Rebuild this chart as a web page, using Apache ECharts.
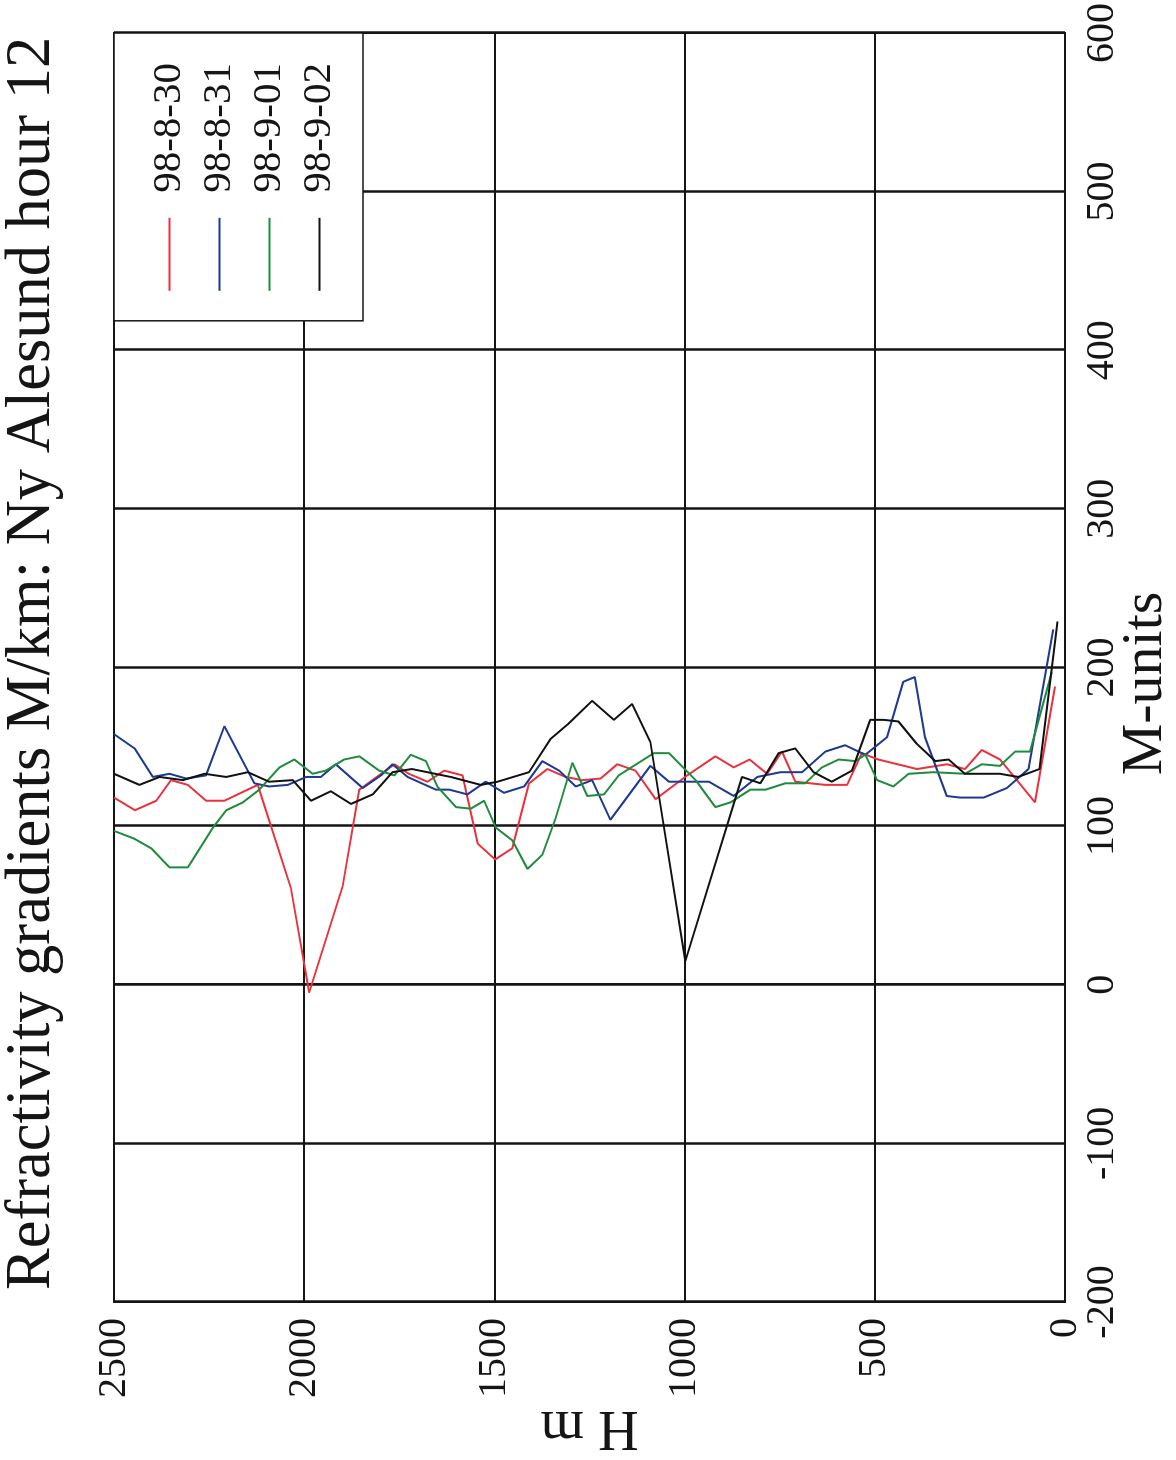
<!DOCTYPE html>
<html>
<head>
<meta charset="utf-8">
<script src="https://cdn.jsdelivr.net/npm/echarts@6/dist/echarts.min.js"></script>
<style>
  html, body { margin: 0; padding: 0; width: 1176px; height: 1460px; overflow: hidden; background: #fff; }
  /* the plot is laid out landscape and turned a quarter turn to stand on the page */
  #chart { position: absolute; left: 0; top: 0; width: 1460px; height: 1176px;
           transform-origin: 0 0; transform: translateY(1460px) rotate(-90deg); }
</style>
</head>
<body>
<div id="chart"></div>
<script>
// Radiosonde refractivity gradient profiles, Ny Alesund, 12 UTC.
// Each entry: [height H in m, gradient in M-units per km]
const seriesNames = ['98-8-30', '98-8-31', '98-9-01', '98-9-02'];
const seriesColors = ['#e8323c', '#1c3a90', '#1f8c3c', '#111111'];

const profile0830 = [
  [2500,118],[2445,110],[2389,116],[2350,129],[2306,126],[2258,116],[2210,116],[2122,126],
  [2035,61],[1987,-5],[1899,62],[1855,123],[1763,139],[1725,133],[1676,128],[1632,135],
  [1584,132],[1544,89],[1498,79],[1453,86],[1409,127],[1361,136],[1313,131],[1269,129],
  [1221,130],[1177,139],[1129,135],[1076,117],[993,132],[919,144],[871,137],[829,142],
  [783,133],[744,147],[709,128],[630,126],[573,126],[534,146],[491,142],[389,136],
  [310,139],[263,136],[219,148],[171,142],[79,115],[26,188]
];
const profile0831 = [
  [2500,158],[2446,149],[2398,131],[2354,133],[2310,130],[2258,132],[2210,163],[2131,127],
  [2092,125],[2043,126],[1995,131],[1956,131],[1917,139],[1846,124],[1798,132],[1768,139],
  [1728,131],[1654,123],[1619,123],[1571,120],[1523,128],[1475,121],[1422,125],[1374,141],
  [1330,135],[1286,125],[1243,129],[1195,104],[1090,138],[1041,128],[936,128],[871,119],
  [809,131],[748,134],[691,134],[630,147],[578,151],[525,145],[468,156],[425,191],
  [395,194],[368,156],[311,119],[276,118],[214,118],[153,124],[96,136],[31,224]
];
const profile0901 = [
  [2500,97],[2446,92],[2402,86],[2354,74],[2306,74],[2240,99],[2205,110],[2161,115],
  [2118,123],[2065,137],[2026,142],[1978,133],[1943,135],[1895,142],[1855,144],[1803,135],
  [1763,132],[1720,145],[1680,141],[1650,125],[1601,112],[1562,111],[1527,116],[1496,99],
  [1453,91],[1413,73],[1374,82],[1339,105],[1295,140],[1256,119],[1212,120],[1173,132],
  [1081,146],[1041,146],[971,129],[919,112],[879,115],[827,123],[787,123],[735,127],
  [683,127],[639,137],[595,142],[551,141],[525,145],[494,129],[451,125],[411,133],
  [346,134],[263,133],[219,139],[171,138],[131,147],[92,147],[35,197]
];
const profile0902 = [
  [2500,133],[2433,126],[2380,131],[2319,129],[2262,133],[2205,131],[2148,134],[2092,128],
  [2030,129],[1982,116],[1930,122],[1877,114],[1820,120],[1768,134],[1717,136],[1615,131],
  [1536,126],[1492,128],[1409,134],[1352,155],[1308,164],[1243,179],[1186,167],[1138,177],
  [1090,153],[998,15],[849,131],[801,127],[753,146],[709,149],[661,134],[613,128],
  [560,135],[512,167],[477,167],[438,166],[390,152],[341,141],[306,142],[263,133],
  [171,133],[123,131],[67,136],[20,229]
];
const profiles = [profile0830, profile0831, profile0901, profile0902];

// axis ranges (tick labels come from these)
const mAxis = { min: -200, max: 600, step: 100 };
const hAxis = { min: 0, max: 2500, step: 500 };

const serif = 'Liberation Serif, Times New Roman, serif';
const ink = '#151515';

const chart = echarts.init(document.getElementById('chart'), null, { renderer: 'canvas' });

chart.setOption({
  animation: false,
  backgroundColor: '#ffffff',
  title: {
    text: 'Refractivity gradients M/km: Ny Alesund hour 12',
    left: 165,
    top: -4,
    textStyle: { fontFamily: serif, fontSize: 62.5, fontWeight: 'normal', color: ink }
  },
  legend: {
    orient: 'vertical',
    right: 33,
    top: 114,
    padding: [35, 30, 23, 30],
    itemGap: 9,
    itemWidth: 73,
    itemHeight: 2,
    icon: 'rect',
    backgroundColor: '#ffffff',
    borderColor: ink,
    borderWidth: 1.5,
    borderRadius: 0,
    textStyle: { fontFamily: serif, fontSize: 41, lineHeight: 40, color: ink, padding: [0, 0, 0, 20] },
    data: seriesNames
  },
  grid: {
    left: 158, right: 33, top: 114, bottom: 111,
    outerBoundsMode: 'none',
    containLabel: false,
    show: true, borderColor: ink, borderWidth: 2, backgroundColor: 'transparent'
  },
  xAxis: {
    type: 'value',
    min: mAxis.min, max: mAxis.max, interval: mAxis.step,
    name: 'M-units',
    nameLocation: 'middle',
    nameGap: 52,
    nameMoveOverlap: false,
    nameTextStyle: { fontFamily: serif, fontSize: 58, color: ink, padding: [0, 32, 0, 0] },
    axisLine: { show: true, lineStyle: { color: ink, width: 2 } },
    axisTick: { show: false },
    axisLabel: { margin: 17, fontFamily: serif, fontSize: 40, color: ink, formatter: v => String(v) },
    splitLine: { show: true, lineStyle: { color: ink, width: 2.5 } }
  },
  yAxis: {
    type: 'value',
    min: hAxis.min, max: hAxis.max, interval: hAxis.step,
    name: 'H m',
    nameLocation: 'middle',
    nameGap: 97,
    nameMoveOverlap: false,
    nameTextStyle: { fontFamily: serif, fontSize: 56, color: ink },
    axisLine: { show: true, lineStyle: { color: ink, width: 2 } },
    axisTick: { show: false },
    axisLabel: { margin: 16, fontFamily: serif, fontSize: 40, color: ink, formatter: v => String(v) },
    splitLine: { show: true, lineStyle: { color: ink, width: 2 } }
  },
  series: profiles.map((p, i) => ({
    name: seriesNames[i],
    type: 'line',
    showSymbol: false,
    symbol: 'none',
    color: seriesColors[i],
    lineStyle: { color: seriesColors[i], width: 2 },
    data: p.map(([h, m]) => [m, h]),
    z: 3
  }))
});
</script>
</body>
</html>
